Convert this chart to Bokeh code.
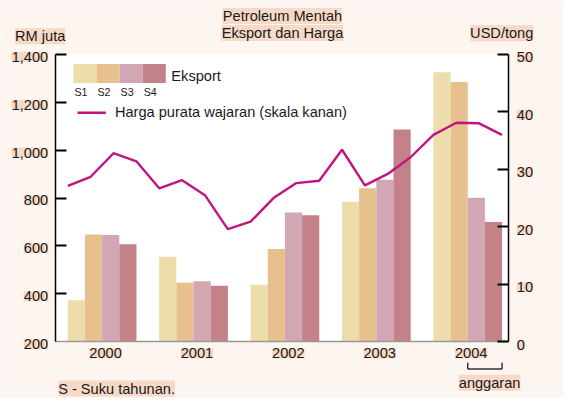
from bokeh.plotting import figure
from bokeh.models import Range1d, LinearAxis, FixedTicker, Label
from bokeh.embed import file_html
from bokeh.resources import INLINE

# ---------------- data ----------------
years = ["2000", "2001", "2002", "2003", "2004"]
quarters = ["S1", "S2", "S3", "S4"]
s1 = [373, 555, 438, 785, 1325]
s2 = [648, 446, 587, 841, 1284]
s3 = [646, 453, 740, 876, 801]
s4 = [607, 434, 728, 1086, 700]
price = [27.1, 28.7, 32.8, 31.4,
         26.7, 28.1, 25.5, 19.6,
         20.9, 25.0, 27.6, 28.0,
         33.4, 27.2, 29.2, 32.1,
         36.0, 38.1, 38.0, 36.0]
left_ticks = [200, 400, 600, 800, 1000, 1200, 1400]
left_tick_labels = ["200", "400", "600", "800", "1,000", "1,200", "1,400"]
right_ticks = [0, 10, 20, 30, 40, 50]
right_tick_labels = ["0", "10", "20", "30", "40", "50"]

# ---------------- layout ----------------
FIG_W, FIG_H = 563, 398
SX, SY = FIG_W / 579.0, FIG_H / 414.0       # design grid -> figure px

def X(r):
    return r * SX

def Yp(r):
    return r * SY

FL, FR, FT, FB = X(57), X(522), Yp(56), Yp(355)   # plot-area edges
CAT_PX = X(94.0)
C0 = X(104.5)
BAR_W = 0.188
Y0, Y1 = 200, 1400
R0, R1 = 0, 50

def fx(px):
    return (px - C0) / CAT_PX

def fy(py):
    return Y0 + (FB - py) * (Y1 - Y0) / (FB - FT)

def rv(py):
    return R0 + (FB - py) * (R1 - R0) / (FB - FT)

def py_left(v):
    return FB - (v - Y0) / (Y1 - Y0) * (FB - FT)

def py_right(v):
    return FB - (v - R0) / (R1 - R0) * (FB - FT)

BG = "#FDF5F0"
HL = "#F6D9C6"
TXT = "#1a1a1a"
FONT = "Liberation Sans"
FS = "14.6px"
colors = ["#EDDDAB", "#E8C08E", "#D2A7B3", "#C38288"]
LINE_C = "#C0147F"

p = figure(width=FIG_W, height=FIG_H,
           x_range=Range1d(fx(0), fx(FIG_W)), y_range=Range1d(fy(FIG_H), fy(0)),
           output_backend="svg", toolbar_location=None,
           x_axis_location=None, y_axis_location=None,
           min_border=0,
           background_fill_color=BG, border_fill_color=BG,
           outline_line_color=None)
p.extra_y_ranges = {"right": Range1d(rv(FIG_H), rv(0))}
for g in p.grid:
    g.visible = False

# white plot area
p.quad(left=fx(FL), right=fx(FR), top=fy(FT), bottom=fy(FB),
       fill_color="white", line_color=None)

# axes at fixed positions
lax = LinearAxis(ticker=FixedTicker(ticks=left_ticks[1:]),
                 fixed_location=fx(FL), bounds=(Y0, Y1),
                 major_label_overrides={t: "" for t in left_ticks},
                 major_tick_in=11, major_tick_out=0,
                 major_tick_line_width=2, major_tick_line_color="black",
                 minor_tick_line_color=None,
                 axis_line_color="black", axis_line_width=1.5)
p.add_layout(lax, "left")
rax = LinearAxis(y_range_name="right", ticker=FixedTicker(ticks=right_ticks),
                 fixed_location=fx(FR), bounds=(R0, R1),
                 major_label_overrides={t: "" for t in right_ticks},
                 major_tick_in=11, major_tick_out=0,
                 major_tick_line_width=2, major_tick_line_color="black",
                 minor_tick_line_color=None,
                 axis_line_color="black", axis_line_width=1.5)
p.add_layout(rax, "right")
bax = LinearAxis(ticker=FixedTicker(ticks=[]),
                 fixed_location=Y0, bounds=(fx(FL), fx(FR)),
                 major_tick_line_color=None, minor_tick_line_color=None,
                 axis_line_color="#9a9a9a", axis_line_width=1.5)
p.add_layout(bax, "below")

# bars
for k, (name, vals) in enumerate(zip(quarters, [s1, s2, s3, s4])):
    xs = [i + (k - 1.5) * BAR_W for i in range(len(years))]
    p.vbar(x=xs, top=vals, bottom=Y0, width=BAR_W,
           fill_color=colors[k], line_color=None)

# price line
line_x = [i + (q - 1.5) * 0.25 for i in range(len(years)) for q in range(4)]
p.line(x=line_x, y=price, y_range_name="right",
       line_color=LINE_C, line_width=2.4)

def lab(text, rx, py, align="left", size=FS, bg=HL):
    """rx in design-grid px, py in figure px"""
    p.add_layout(Label(x=fx(X(rx)), y=fy(py), text=text,
                       text_align=align, text_baseline="middle",
                       text_font=FONT, text_font_size=size, text_color=TXT,
                       background_fill_color=bg))

# tick labels
for v, t in zip(left_ticks, left_tick_labels):
    lab(t, 49, py_left(v) + Yp(2.5), align="right")
for v, t in zip(right_ticks, right_tick_labels):
    lab(t, 531, py_right(v) + Yp(3), align="left")
for i, yname in enumerate(years):
    lab(yname, 104.5 + 94 * i + 3.5, Yp(367), align="center")

# titles
lab("RM juta", 15, Yp(37.3))
lab("Petroleum Mentah", 290, Yp(16.2), align="center")
lab("Eksport dan Harga", 290, Yp(33.8), align="center")
lab("USD/tong", 548, Yp(34), align="right")

# legend
SW_X0, SW_W, SW_T, SW_B = 75, 23.75, 66, 85.7
for k, name in enumerate(quarters):
    p.quad(left=fx(X(SW_X0 + SW_W * k)), right=fx(X(SW_X0 + SW_W * (k + 1))),
           top=fy(Yp(SW_T)), bottom=fy(Yp(SW_B)), fill_color=colors[k], line_color=None)
    lab(name, SW_X0 + SW_W * k + 1, Yp(95.2), size="10.7px", bg=None)
lab("Eksport", 175.7, Yp(78.7), bg=None)
p.line(x=[fx(X(79.3)), fx(X(108.3))], y=[fy(Yp(116.7)), fy(Yp(116.7))],
       line_color=LINE_C, line_width=2.4)
lab("Harga purata wajaran (skala kanan)", 117.7, Yp(116.4), bg=None)

# anggaran bracket (last two quarters of 2004)
bx0 = len(years) - 1
bx1 = bx0 + 2 * BAR_W
ytop, ybot = fy(Yp(376.7)), fy(Yp(383.3))
p.segment(x0=[bx0, bx0, bx1], y0=[ytop, ybot, ybot],
          x1=[bx0, bx1, bx1], y1=[ybot, ybot, ytop],
          line_color="#333333", line_width=1.5)
lab("anggaran", 503, Yp(397.5), align="center")

# footnote (kept fully inside the canvas)
lab("S - Suku tahunan.", 59.3, FIG_H - 10)

open("out.html", "w").write(file_html(p, INLINE))
